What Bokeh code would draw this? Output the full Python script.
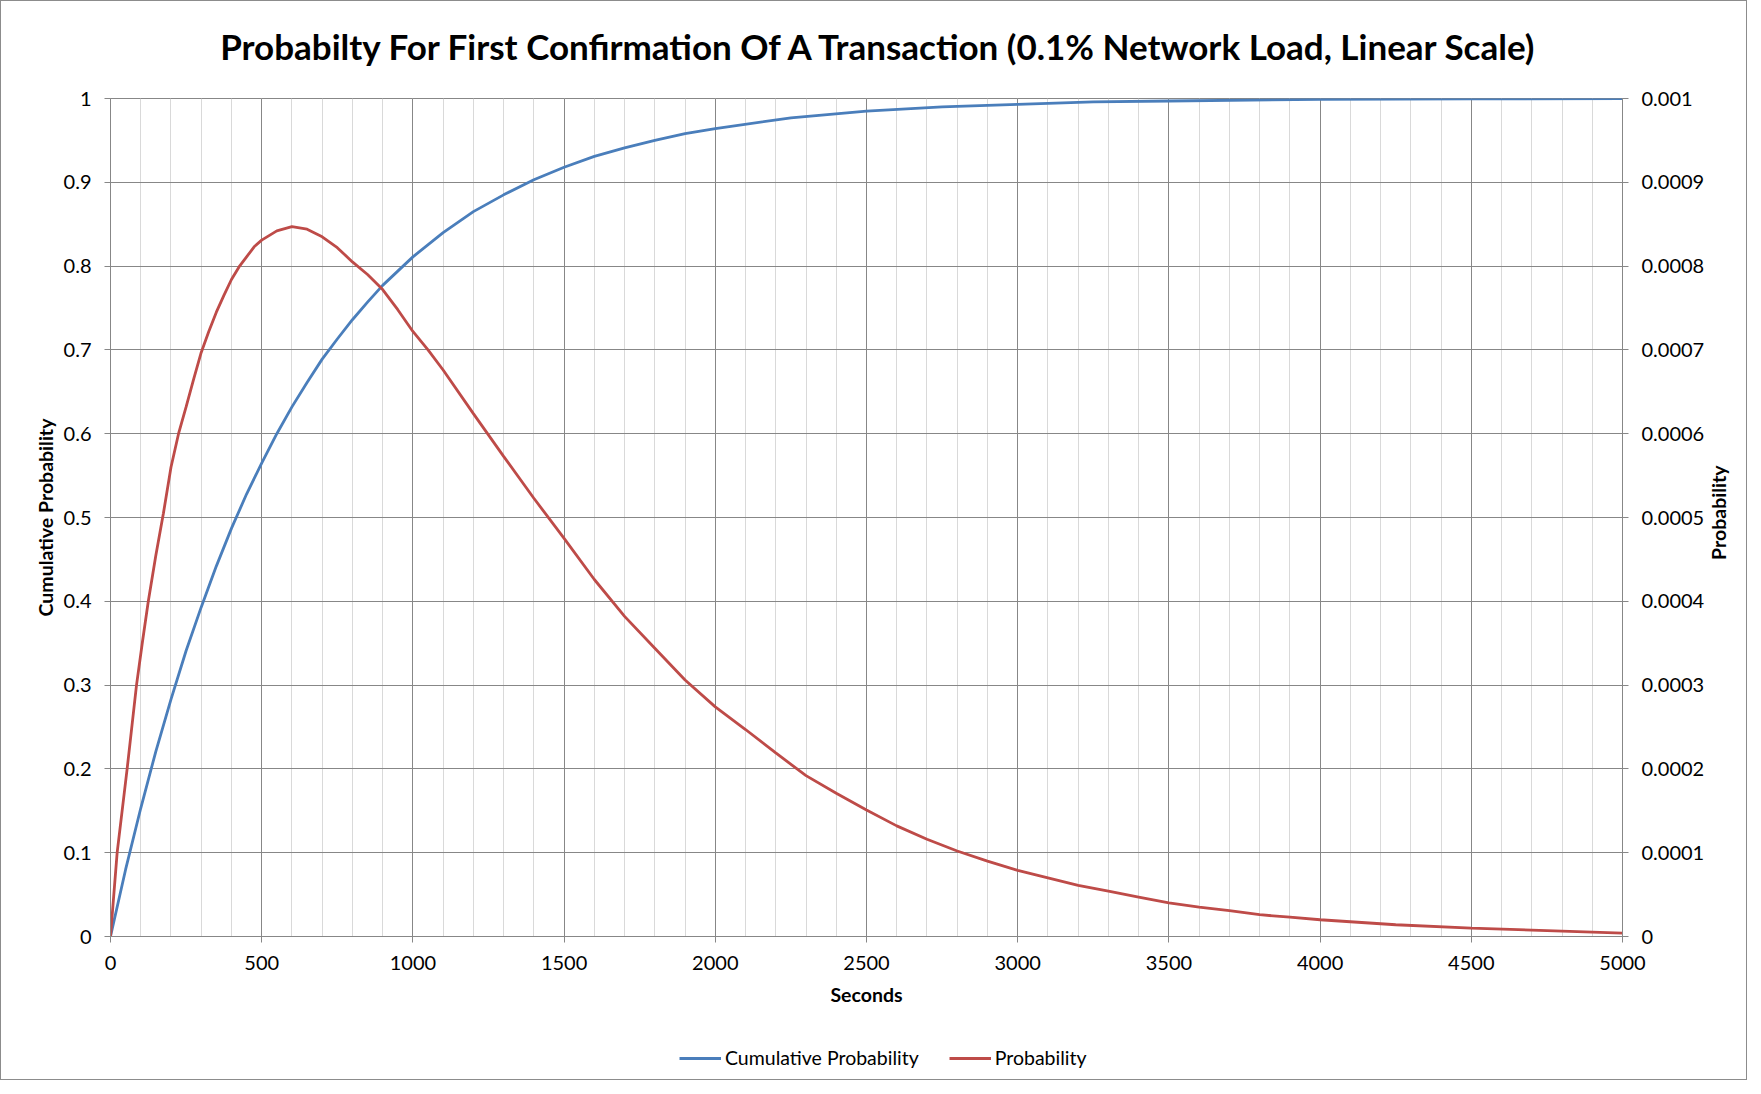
import math
from bokeh.plotting import figure
from bokeh.layouts import column, row
from bokeh.models import (Range1d, LinearAxis, FixedTicker, CustomJSTickFormatter,
                          Legend, LegendItem, Label)
from bokeh.embed import file_html
from bokeh.resources import INLINE

# ---- data ----
cum_seconds = [0, 50, 100, 150, 200, 250, 300, 350, 400, 450, 500, 550, 600, 650, 700,
               750, 800, 850, 900, 950, 1000, 1100, 1200, 1300, 1400, 1500, 1600, 1700,
               1800, 1900, 2000, 2250, 2500, 2750, 3000, 3250, 3500, 4000, 4500, 5000]
cum_prob = [0.0, 0.080, 0.153, 0.221, 0.283, 0.341, 0.393, 0.442, 0.487, 0.528, 0.565,
            0.600, 0.632, 0.661, 0.689, 0.713, 0.736, 0.757, 0.777, 0.794, 0.811, 0.840,
            0.865, 0.885, 0.903, 0.918, 0.931, 0.941, 0.950, 0.958, 0.964, 0.977, 0.985,
            0.990, 0.993, 0.996, 0.997, 0.999, 0.9995, 1.0]

prob_seconds = [0, 22, 55, 86, 105, 125, 150, 175, 200, 225, 250, 275, 300, 325, 350, 375,
                400, 425, 450, 475, 500, 550, 600, 650, 700, 750, 800, 850, 900, 950, 1000,
                1050, 1100, 1200, 1300, 1400, 1500, 1600, 1700, 1800, 1900, 2000, 2100,
                2200, 2300, 2400, 2500, 2600, 2700, 2800, 2900, 3000, 3100, 3200, 3300,
                3400, 3500, 3600, 3700, 3800, 3900, 4000, 4250, 4500, 4750, 5000]
prob = [0.0, 0.000100, 0.000200, 0.000300, 0.000350, 0.000400, 0.000455, 0.000505,
        0.000560, 0.000600, 0.000632, 0.000665, 0.000697, 0.000722, 0.000745, 0.000765,
        0.000784, 0.000799, 0.000811, 0.000823, 0.000831, 0.000842, 0.000847, 0.000844,
        0.000835, 0.000822, 0.000805, 0.000790, 0.000772, 0.000748, 0.000722, 0.000700,
        0.000676, 0.000624, 0.000573, 0.000523, 0.000475, 0.000426, 0.000382, 0.000344,
        0.000306, 0.000274, 0.000247, 0.000219, 0.000192, 0.000171, 0.000151, 0.000132,
        0.000116, 0.000102, 0.000090, 0.000079, 0.000070, 0.000061, 0.000054, 0.000047,
        0.000040, 0.000035, 0.000031, 0.000026, 0.000023, 0.000020, 0.000014, 0.000010,
        0.000007, 0.000004]

x_ticks = [0, 500, 1000, 1500, 2000, 2500, 3000, 3500, 4000, 4500, 5000]
x_minor = list(range(0, 5001, 100))
left_ticks = [0, 0.1, 0.2, 0.3, 0.4, 0.5, 0.6, 0.7, 0.8, 0.9, 1.0]
right_ticks = [0, 0.0001, 0.0002, 0.0003, 0.0004, 0.0005, 0.0006, 0.0007, 0.0008, 0.0009, 0.001]

TITLE = "Probabilty For First Confirmation Of A Transaction (0.1% Network Load, Linear Scale)"
X_LABEL = "Seconds"
Y_LABEL = "Cumulative Probability"
Y2_LABEL = "Probability"
BLUE = "#4a7ebb"
RED = "#be4b48"
GRID = "#878787"
FONT = "Lato"

# page geometry (pixels)
W = 1745
H_TOP = 77          # title strip
H_MID = 955         # chart
H_LEG = 46          # legend strip
W_MAIN = 1706
W_SIDE = W - W_MAIN


def strip(width, height):
    f = figure(width=width, height=height, output_backend="svg", toolbar_location=None,
               x_range=Range1d(0, width), y_range=Range1d(0, height),
               x_axis_type=None, y_axis_type=None, min_border=0)
    f.outline_line_color = None
    f.grid.visible = False
    f.background_fill_color = "white"
    f.border_fill_color = "white"
    return f


# ---- title strip ----
pt = strip(W, H_TOP)
pt.add_layout(Label(x=879, y=32.5, text=TITLE, text_align="center", text_baseline="middle",
                    text_font=FONT, text_font_style="bold", text_font_size="35px",
                    text_color="black"))

# ---- main chart ----
p = figure(width=W_MAIN, height=H_MID, output_backend="svg", toolbar_location=None,
           x_range=Range1d(0, 5000), y_range=Range1d(0, 1),
           min_border_left=109, min_border_right=W_MAIN - 1621, min_border_top=20,
           min_border_bottom=97)
p.extra_y_ranges = {"prob": Range1d(0, 0.001)}
p.outline_line_color = GRID
p.background_fill_color = "white"
p.border_fill_color = "white"

fmt = CustomJSTickFormatter(code="return parseFloat(tick.toFixed(4)).toString();")


def style_axis(ax):
    ax.axis_line_color = GRID
    ax.major_tick_line_color = GRID
    ax.major_tick_out = 6
    ax.major_tick_in = 0
    ax.minor_tick_line_color = None
    ax.major_label_text_font = FONT
    ax.major_label_text_font_size = "20px"
    ax.major_label_text_color = "black"
    ax.axis_label_text_font = FONT
    ax.axis_label_text_font_style = "bold"
    ax.axis_label_text_font_size = "19.5px"
    ax.axis_label_text_color = "black"
    ax.formatter = fmt


xa = p.xaxis[0]
xa.ticker = FixedTicker(ticks=x_ticks, minor_ticks=x_minor)
style_axis(xa)
xa.axis_label = X_LABEL
xa.major_label_standoff = 13
xa.axis_label_standoff = 10

ya = p.yaxis[0]
ya.ticker = FixedTicker(ticks=left_ticks)
style_axis(ya)
ya.axis_label = Y_LABEL
ya.major_label_standoff = 13
ya.axis_label_standoff = 4

ra = LinearAxis(y_range_name="prob", ticker=FixedTicker(ticks=right_ticks))
style_axis(ra)
ra.major_label_standoff = 13
p.add_layout(ra, "right")

p.xgrid.grid_line_color = GRID
p.xgrid.minor_grid_line_color = "#d9d9d9"
p.ygrid.grid_line_color = GRID

p.line(cum_seconds, cum_prob, line_color=BLUE, line_width=2.8)
p.line(prob_seconds, prob, line_color=RED, line_width=2.8, y_range_name="prob")

# ---- right strip with the secondary axis title ----
ps = strip(W_SIDE, H_MID)
ps.add_layout(Label(x=11, y=483, text=Y2_LABEL,
                    angle=math.pi / 2, text_align="center", text_baseline="middle",
                    text_font=FONT, text_font_style="bold", text_font_size="19.5px",
                    text_color="black"))

# ---- legend strip: same series, drawn outside this strip's visible ranges ----
pl = figure(width=W, height=H_LEG, output_backend="svg", toolbar_location=None,
            x_range=Range1d(-2, -1), y_range=Range1d(-2, -1),
            x_axis_type=None, y_axis_type=None, min_border=0)
pl.outline_line_color = None
pl.grid.visible = False
l1 = pl.line(cum_seconds, cum_prob, line_color=BLUE, line_width=2.8)
l2 = pl.line(prob_seconds, prob, line_color=RED, line_width=2.8)
legend = Legend(items=[LegendItem(label="Cumulative Probability", renderers=[l1]),
                       LegendItem(label="Probability", renderers=[l2])],
                orientation="horizontal", location=(678, 10),
                label_text_font=FONT, label_text_font_size="19.5px",
                label_text_color="black",
                glyph_width=42, label_standoff=4, spacing=30,
                border_line_color=None, background_fill_alpha=0,
                margin=0, padding=0)
pl.add_layout(legend)

layout = column(pt, row(p, ps, spacing=0), pl, spacing=0,
                styles={"border": "1px solid #8c8c8c", "box-sizing": "border-box"})

open("out.html", "w").write(file_html(layout, INLINE))
